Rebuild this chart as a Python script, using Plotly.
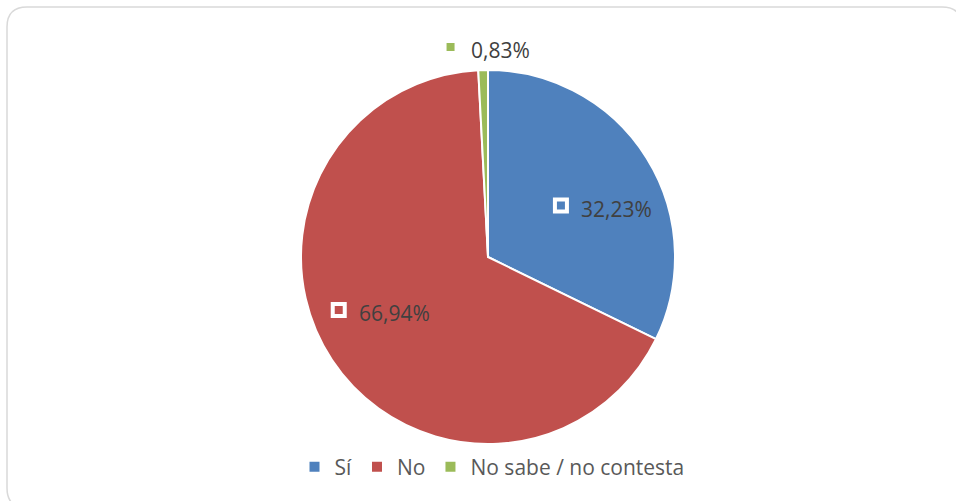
import math
import plotly.graph_objects as go

# ---- data ----
categories = ["Sí", "No", "No sabe / no contesta"]
values = [32.23, 66.94, 0.83]
label_texts = ["32,23%", "66,94%", "0,83%"]

# ---- style ----
colors = ["#4F81BD", "#C0504D", "#9BBB59"]
W, H = 956, 501
CX, CY, R = 488, 257, 187          # pie centre / radius in px
LABEL_NUDGE = [(-27, 11), (-51, -12), (-32, -1)]  # px tweak of label marker
FONT = "Open Sans"

def px(x):
    return x / W

def py(y):
    return 1 - y / H

fig = go.Figure()
fig.add_trace(go.Pie(
    labels=categories, values=values, sort=False, direction="clockwise",
    rotation=0, textinfo="none", hoverinfo="label+percent",
    marker=dict(colors=colors, line=dict(color="white", width=2)),
    domain=dict(x=[px(CX - R), px(CX + R)], y=[py(CY + R), py(CY - R)]),
))

shapes = []
annotations = []
total = sum(values)
cum = 0.0
for i, v in enumerate(values):
    frac = v / total
    mid = (cum + frac / 2) * 2 * math.pi
    cum += frac
    r = 0.63 * R if frac > 0.05 else R + 22
    mx = CX + r * math.sin(mid) + LABEL_NUDGE[i][0]
    my = CY - r * math.cos(mid) + LABEL_NUDGE[i][1]
    h = 6
    shapes.append(dict(type="rect", xref="paper", yref="paper",
                       x0=px(mx - h), x1=px(mx + h), y0=py(my + h), y1=py(my - h),
                       fillcolor=colors[i], line=dict(color="white", width=4),
                       layer="above"))
    annotations.append(dict(x=px(mx + 18), y=py(my + 3), xref="paper", yref="paper",
                            xanchor="left", yanchor="middle", showarrow=False,
                            text=label_texts[i],
                            font=dict(family=FONT, size=21, color="#404040")))

# rounded chart border
x0b, y0b, x1b, y1b, rb = 7, 7, 962, 508, 20
path = (f"M {px(x0b + rb)},{py(y0b)} L {px(x1b - rb)},{py(y0b)} "
        f"Q {px(x1b)},{py(y0b)} {px(x1b)},{py(y0b + rb)} "
        f"L {px(x1b)},{py(y1b - rb)} Q {px(x1b)},{py(y1b)} {px(x1b - rb)},{py(y1b)} "
        f"L {px(x0b + rb)},{py(y1b)} Q {px(x0b)},{py(y1b)} {px(x0b)},{py(y1b - rb)} "
        f"L {px(x0b)},{py(y0b + rb)} Q {px(x0b)},{py(y0b)} {px(x0b + rb)},{py(y0b)} Z")
shapes.append(dict(type="path", xref="paper", yref="paper", path=path,
                   line=dict(color="#D9D9D9", width=1.5), layer="below"))

fig.update_layout(
    width=W, height=H, autosize=False,
    margin=dict(l=0, r=0, t=0, b=0),
    paper_bgcolor="white", plot_bgcolor="white",
    shapes=shapes, annotations=annotations,
    showlegend=True,
    legend=dict(orientation="h", x=px(492), xanchor="center", y=py(467), yanchor="middle",
                font=dict(family=FONT, size=21, color="#595959"),
                itemwidth=30, bgcolor="rgba(0,0,0,0)"),
)

fig.write_html("out.html")
